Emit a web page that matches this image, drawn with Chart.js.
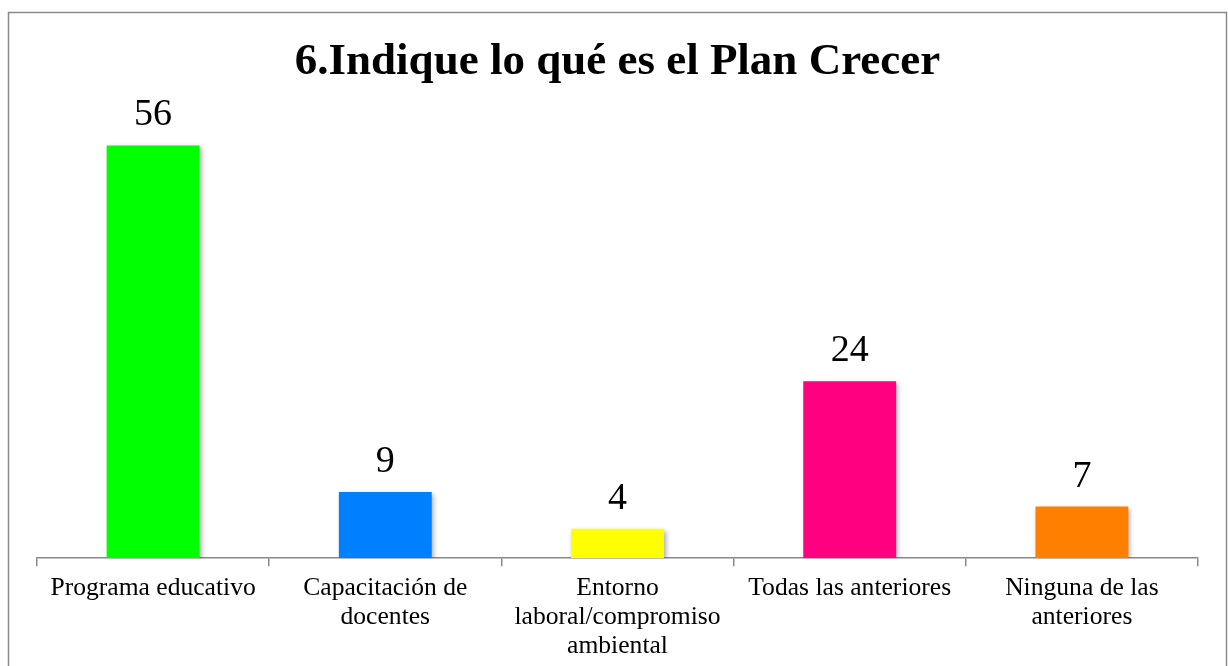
<!DOCTYPE html>
<html>
<head>
<meta charset="utf-8">
<script src="https://cdn.jsdelivr.net/npm/chart.js@4/dist/chart.umd.min.js"></script>
<style>
  html, body { margin: 0; padding: 0; background: #fff; overflow: hidden; }
  #wrap { width: 1228px; height: 666px; position: relative; overflow: hidden; }
</style>
</head>
<body>
<div id="wrap"><canvas id="c" width="1228" height="673"></canvas></div>
<script>
const titleText = "6.Indique lo qué es el Plan Crecer";
const categories = [
  ["Programa educativo"],
  ["Capacitación de", "docentes"],
  ["Entorno", "laboral/compromiso", "ambiental"],
  ["Todas las anteriores"],
  ["Ninguna de las", "anteriores"]
];
const values = [56, 9, 4, 24, 7];
const barColors = ["#00FF00", "#0080FF", "#FFFF00", "#FF0080", "#FF8000"];

const FONT = "'Liberation Serif', 'Times New Roman', serif";

const frame = {
  id: 'frame',
  beforeDraw(chart) {
    const ctx = chart.ctx;
    ctx.save();
    ctx.strokeStyle = '#8a8a8a';
    ctx.lineWidth = 1.5;
    ctx.strokeRect(8.5, 12.5, 1218, 700);
    ctx.restore();
  }
};

const shadow = {
  id: 'shadow',
  beforeDatasetsDraw(chart) {
    const ctx = chart.ctx;
    ctx.save();
    ctx.shadowColor = 'rgba(0,0,0,0.35)';
    ctx.shadowBlur = 5;
    ctx.shadowOffsetX = 2;
    ctx.shadowOffsetY = 2;
  },
  afterDatasetsDraw(chart) {
    chart.ctx.restore();
  }
};

const labels = {
  id: 'valueLabels',
  afterDatasetsDraw(chart) {
    const ctx = chart.ctx;
    const meta = chart.getDatasetMeta(0);
    ctx.save();
    ctx.fillStyle = '#000';
    ctx.font = "38px " + FONT;
    ctx.textAlign = 'center';
    ctx.textBaseline = 'alphabetic';
    meta.data.forEach((bar, i) => {
      ctx.fillText(String(values[i]), bar.x, bar.y - 20);
    });
    ctx.restore();
  }
};

new Chart(document.getElementById('c'), {
  type: 'bar',
  data: {
    labels: categories,
    datasets: [{
      data: values,
      backgroundColor: barColors,
      borderWidth: 0,
      categoryPercentage: 1.0,
      barPercentage: 0.4
    }]
  },
  options: {
    responsive: false,
    animation: false,
    devicePixelRatio: 1,
    layout: { padding: { left: 37, right: 30, top: 0, bottom: 4 } },
    plugins: {
      legend: { display: false },
      tooltip: { enabled: false },
      title: {
        display: true,
        text: titleText,
        color: '#000',
        font: { family: FONT, size: 45, weight: 'bold', lineHeight: 1.2 },
        padding: { top: 35, bottom: 27 }
      }
    },
    scales: {
      x: {
        offset: true,
        grid: {
          offset: true,
          drawOnChartArea: false,
          drawTicks: true,
          tickLength: 8,
          color: '#8a8a8a',
          lineWidth: 1.5
        },
        border: { display: true, color: '#8a8a8a', width: 1.5 },
        ticks: {
          color: '#000',
          font: { family: FONT, size: 25.6, lineHeight: 1.13 },
          padding: 8,
          maxRotation: 0,
          autoSkip: false
        }
      },
      y: {
        display: false,
        min: 0,
        max: 60
      }
    }
  },
  plugins: [frame, shadow, labels]
});
</script>
</body>
</html>
